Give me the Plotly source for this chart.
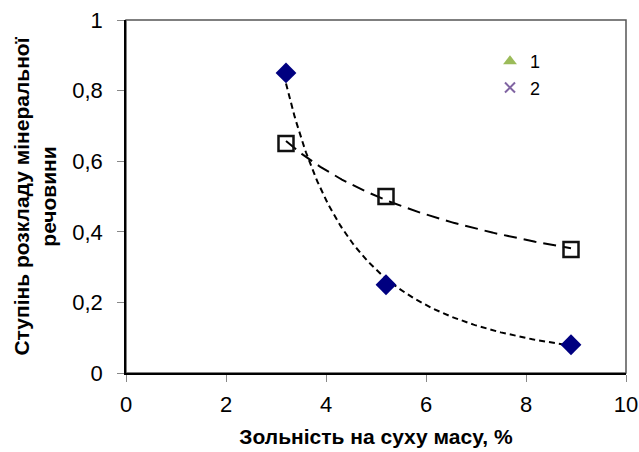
import numpy as np
import plotly.graph_objects as go

# data
ash = [3.2, 5.2, 8.9]
degree_a = [0.85, 0.25, 0.08]   # diamonds
degree_b = [0.65, 0.50, 0.35]   # squares
x_ticks = [0, 2, 4, 6, 8, 10]
y_ticks = [0, 0.2, 0.4, 0.6, 0.8, 1]
legend_names = ["1", "2"]


def power_fit(xs, ys, n=200):
    b, ln_a = np.polyfit(np.log(xs), np.log(ys), 1)
    xf = np.linspace(min(xs), max(xs), n)
    return xf, np.exp(ln_a) * xf ** b


fig = go.Figure()

xa, ya = power_fit(ash, degree_a)
xb, yb = power_fit(ash, degree_b)

fig.add_trace(go.Scatter(x=xa, y=ya, mode="lines", showlegend=False,
                         line=dict(color="black", width=2, dash="6px,4px")))
fig.add_trace(go.Scatter(x=xb, y=yb, mode="lines", showlegend=False,
                         line=dict(color="black", width=2, dash="13px,7px")))

fig.add_trace(go.Scatter(x=ash, y=degree_a, mode="markers", showlegend=False,
                         marker=dict(symbol="diamond", size=16, color="#000080",
                                     line=dict(width=0))))
fig.add_trace(go.Scatter(x=ash, y=degree_b, mode="markers", showlegend=False,
                         marker=dict(symbol="square-open", size=15, color="#111111",
                                     line=dict(width=2.5, color="#111111"))))

# legend-only series
fig.add_trace(go.Scatter(x=[None], y=[None], mode="markers", name=legend_names[0],
                         marker=dict(symbol="triangle-up", size=12, color="#9BBB59")))
fig.add_trace(go.Scatter(x=[None], y=[None], mode="markers", name=legend_names[1],
                         marker=dict(symbol="x-thin-open", size=10, color="#8064A2",
                                     line=dict(width=2, color="#8064A2"))))

fig.update_layout(
    width=639, height=452,
    margin=dict(l=126, r=13, t=20, b=79, autoexpand=False),
    paper_bgcolor="white", plot_bgcolor="white",
    separators=",.",
    font=dict(family="Liberation Sans, Arial, sans-serif", size=22, color="black"),
    showlegend=True,
    legend=dict(x=0.728, y=0.935, xanchor="left", yanchor="top",
                bgcolor="rgba(0,0,0,0)", font=dict(size=18),
                itemwidth=30, tracegroupgap=0),
    shapes=[dict(type="rect", xref="paper", yref="paper", x0=0, x1=1, y0=0, y1=1,
                 line=dict(color="#555555", width=1.5), layer="below")],
)

fig.update_xaxes(range=[0, 10], tickvals=x_ticks, showgrid=False, zeroline=False,
                 showline=True, linecolor="black", linewidth=1.5,
                 ticks="outside", ticklen=7, tickcolor="#888888",
                 ticklabelstandoff=4, automargin=False,
                 title=dict(text="<b>Зольність на суху масу, %</b>",
                            font=dict(size=21), standoff=13))
fig.update_yaxes(range=[0, 1], tickvals=y_ticks, showgrid=False, zeroline=False,
                 showline=True, linecolor="black", linewidth=1.5,
                 ticks="outside", ticklen=7, tickcolor="#888888",
                 ticklabelstandoff=10, automargin=False,
                 title=dict(text="<b>Ступінь розкладу мінеральної<br>речовини</b>",
                            font=dict(size=21), standoff=10))

fig.write_html("out.html", config={"displayModeBar": False},
               post_script="document.body.style.margin='0';document.body.style.overflow='hidden';")
